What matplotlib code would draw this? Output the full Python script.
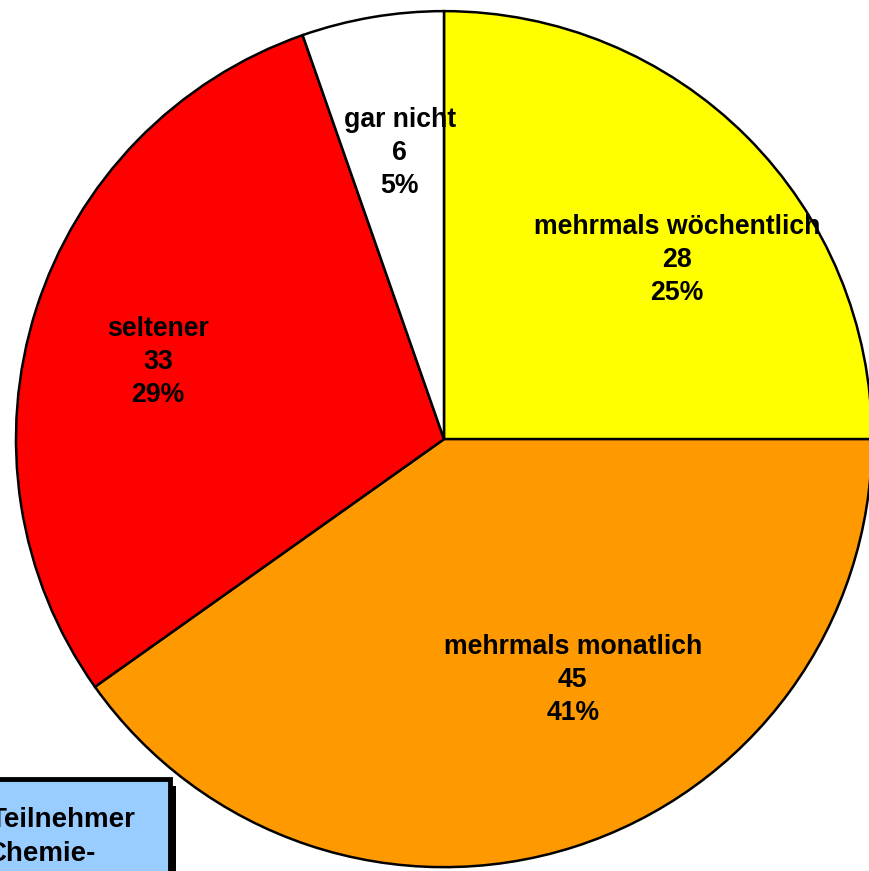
import matplotlib.pyplot as plt
from matplotlib.patches import Rectangle

# Data
categories = ['mehrmals wöchentlich', 'mehrmals monatlich', 'seltener', 'gar nicht']
counts = [28, 45, 33, 6]
percents = ['25%', '41%', '29%', '5%']
colors = ['#FFFF00', '#FF9900', '#FF0000', '#FFFFFF']

# label centres (data units, pie radius = 1)
label_pos = [(0.544, 0.418), (0.301, -0.563), (-0.668, 0.180), (-0.103, 0.668)]

plt.rcParams['font.family'] = ['Liberation Sans', 'DejaVu Sans']

fig = plt.figure(figsize=(8.7, 8.71), dpi=100)
ax = fig.add_axes([0, 0, 1, 1])
ax.pie(counts, colors=colors, startangle=90, counterclock=False, radius=1,
       wedgeprops=dict(edgecolor='black', linewidth=1.8))
ax.set_xlim(-1.037, 0.995)
ax.set_ylim(-1.009, 1.026)
ax.set_aspect('equal')
ax.axis('off')

for cat, n, p, (x, y) in zip(categories, counts, percents, label_pos):
    ax.text(x, y, f'{cat}\n{n}\n{p}', ha='center', va='center',
            fontsize=19.2, fontweight='bold', linespacing=1.36)

# info box at the bottom left (partly cut off)
W, H = 870, 871
shadow = Rectangle((-20 / W, -20 / H), 196 / W, 105 / H, transform=fig.transFigure,
                   facecolor='black', edgecolor='none', clip_on=False)
box = Rectangle((-20 / W, -14 / H), 190 / W, 106 / H, transform=fig.transFigure,
                facecolor='#99CCFF', edgecolor='black', linewidth=3.5, clip_on=False)
fig.patches.extend([shadow, box])
fig.text(-10 / W, 1 - 827 / H, 'Teilnehmer', fontsize=20, fontweight='bold', va='baseline')
fig.text(-13 / W, 1 - 861 / H, 'Chemie-', fontsize=20, fontweight='bold', va='baseline')

fig.savefig('out.png', dpi=100)
